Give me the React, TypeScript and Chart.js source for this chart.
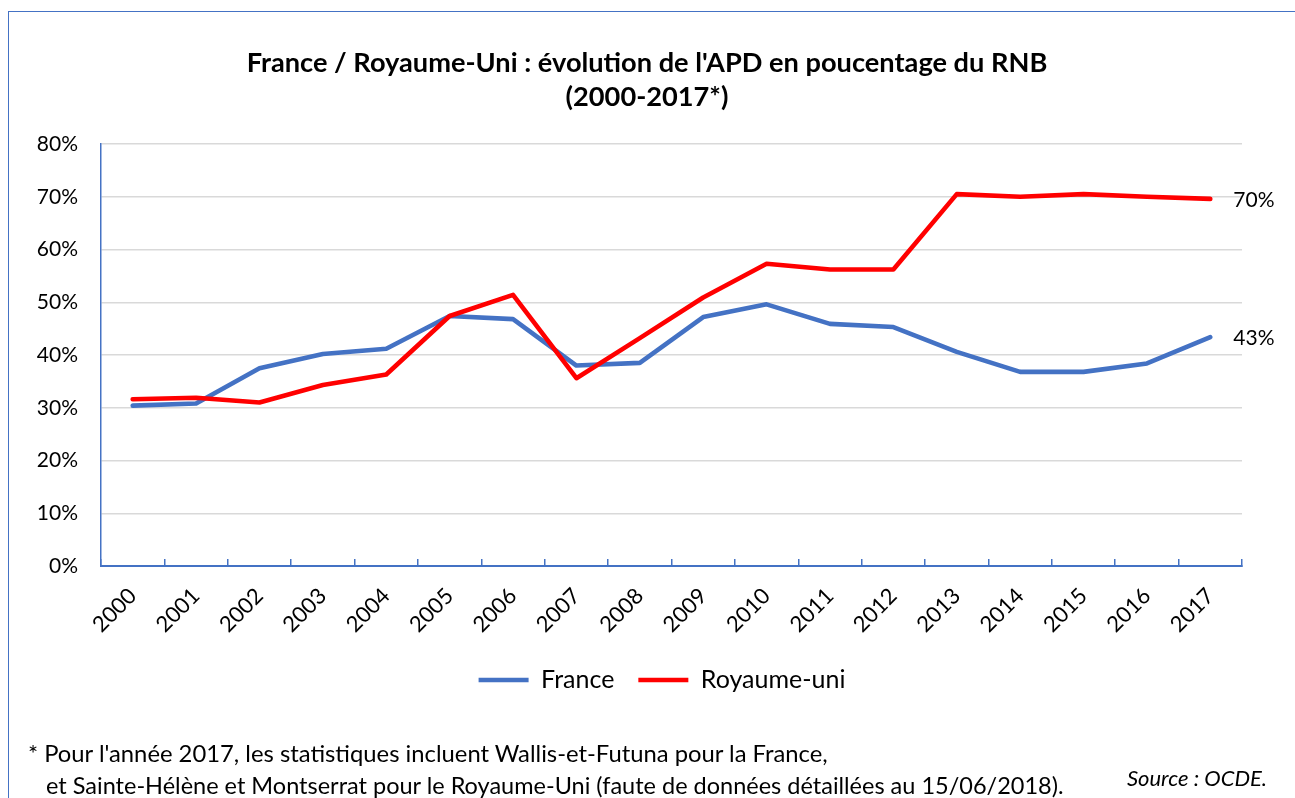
import React, { useEffect, useRef } from "react";
import { Chart, registerables } from "chart.js";

Chart.register(...registerables);

const years = ["2000", "2001", "2002", "2003", "2004", "2005", "2006", "2007", "2008", "2009", "2010", "2011", "2012", "2013", "2014", "2015", "2016", "2017"];
const franceValues = [30.4, 30.8, 37.5, 40.2, 41.2, 47.4, 46.8, 38.0, 38.5, 47.2, 49.6, 45.9, 45.3, 40.6, 36.8, 36.8, 38.4, 43.4];
const ukValues = [31.6, 31.9, 31.0, 34.3, 36.3, 47.4, 51.4, 35.6, 43.2, 50.9, 57.3, 56.2, 56.2, 70.5, 70.0, 70.5, 70.0, 69.6];
const seriesNames = ["France", "Royaume-uni"];
const seriesColors = ["#4472C4", "#FF0000"];
const yMax = 80;
const yStep = 10;
const titleLines = ["France / Royaume-Uni : évolution de l'APD en poucentage du RNB", "(2000-2017*)"];
const footnoteLines = [
  "* Pour l'année 2017, les statistiques incluent Wallis-et-Futuna pour la France,",
  "et Sainte-Hélène et Montserrat pour le Royaume-Uni (faute de données détaillées au 15/06/2018).",
];
const sourceText = "Source : OCDE.";

const FONT = "Lato, 'Open Sans', sans-serif";

const endLabelPlugin = {
  id: "endLabels",
  afterDatasetsDraw(chart: any) {
    const ctx = chart.ctx;
    ctx.save();
    ctx.font = `21px ${FONT}`;
    ctx.fillStyle = "#000";
    ctx.textBaseline = "middle";
    ctx.textAlign = "left";
    chart.data.datasets.forEach((ds: any, i: number) => {
      const meta = chart.getDatasetMeta(i);
      const pts = meta.data;
      const last = pts[pts.length - 1];
      const v = ds.data[ds.data.length - 1];
      ctx.fillText(Math.round(v) + "%", last.x + 23, last.y + 1);
    });
    ctx.restore();
  },
};

const legendShiftPlugin = {
  id: "legendShift",
  afterLayout(chart: any) {
    if (chart.legend) {
      chart.legend.left += 15;
      chart.legend.right += 15;
    }
  },
};

function ChartView() {
  const ref = useRef<HTMLCanvasElement | null>(null);
  useEffect(() => {
    if (!ref.current) return;
    const chart = new Chart(ref.current, {
      type: "line",
      data: {
        labels: years,
        datasets: [
          {
            label: seriesNames[0],
            data: franceValues,
            borderColor: seriesColors[0],
            backgroundColor: seriesColors[0],
            borderWidth: 4.6,
            pointRadius: 0,
            borderCapStyle: "round",
            borderJoinStyle: "round",
            tension: 0,
            order: 1,
          },
          {
            label: seriesNames[1],
            data: ukValues,
            borderColor: seriesColors[1],
            backgroundColor: seriesColors[1],
            borderWidth: 4.6,
            pointRadius: 0,
            borderCapStyle: "round",
            borderJoinStyle: "round",
            tension: 0,
            order: 0,
          },
        ],
      },
      options: {
        responsive: false,
        animation: false,
        layout: { padding: { left: 8, right: 9, top: 0, bottom: 95.5 } },
        plugins: {
          title: {
            display: true,
            text: titleLines,
            color: "#000",
            font: { family: FONT, size: 27.2, weight: "bold", lineHeight: "34px" },
            padding: { top: 46, bottom: 30 },
          },
          legend: {
            position: "bottom",
            labels: {
              usePointStyle: true,
              pointStyle: "line",
              pointStyleWidth: 50,
              font: { family: FONT, size: 25 },
              color: "#000",
              padding: 24,
              sort: (a: any, b: any) => a.datasetIndex - b.datasetIndex,
            },
          },
          tooltip: { enabled: false },
        },
        scales: {
          x: {
            offset: true,
            grid: {
              offset: true,
              drawOnChartArea: false,
              tickLength: -7,
              color: "#4472C4",
              lineWidth: 1.5,
            },
            border: { color: "#4472C4", width: 2 },
            ticks: {
              minRotation: 45,
              maxRotation: 45,
              autoSkip: false,
              color: "#000",
              font: { family: FONT, size: 22 },
              padding: 24,
            },
            afterFit: (s: any) => {
              s.height = 77.5;
            },
          },
          y: {
            min: 0,
            max: yMax,
            ticks: {
              stepSize: yStep,
              callback: (v: any) => v + "%",
              padding: 23,
              color: "#000",
              font: { family: FONT, size: 21 },
            },
            grid: { color: "#D9D9D9", lineWidth: 1.5, drawTicks: false },
            border: { color: "#4472C4", width: 1.5 },
            afterFit: (s: any) => {
              s.width = 93;
            },
          },
          yPad: {
            position: "right",
            display: true,
            min: 0,
            max: yMax,
            ticks: { display: false },
            grid: { drawOnChartArea: false, drawTicks: false },
            border: { display: false },
            afterFit: (s: any) => {
              s.width = 44;
            },
          },
        },
      },
      plugins: [endLabelPlugin, legendShiftPlugin],
    } as any);
    return () => chart.destroy();
  }, []);
  return (
    <canvas
      ref={ref}
      width={1295}
      height={798}
      style={{ position: "absolute", left: 0, top: 0, width: 1295, height: 798 }}
    />
  );
}

export default function App() {
  return (
    <div
      style={{
        position: "fixed",
        left: 0,
        top: 0,
        width: 1295,
        height: 798,
        overflow: "hidden",
        background: "#fff",
        fontFamily: FONT,
      }}
    >
      <div
        style={{
          position: "absolute",
          left: 8,
          top: 11,
          width: 1320,
          height: 820,
          border: "1px solid #4472C4",
          boxSizing: "border-box",
        }}
      />
      <ChartView />
      <div
        style={{
          position: "absolute",
          left: 28,
          top: 737,
          fontSize: 23.8,
          lineHeight: "32px",
          color: "#000",
          whiteSpace: "nowrap",
        }}
      >
        <div>{footnoteLines[0]}</div>
        <div style={{ paddingLeft: 18, fontSize: 23.5 }}>{footnoteLines[1]}</div>
      </div>
      <div
        style={{
          position: "absolute",
          right: 28,
          top: 763,
          fontSize: 22,
          lineHeight: "30px",
          fontStyle: "italic",
          color: "#000",
          whiteSpace: "nowrap",
        }}
      >
        {sourceText}
      </div>
    </div>
  );
}
